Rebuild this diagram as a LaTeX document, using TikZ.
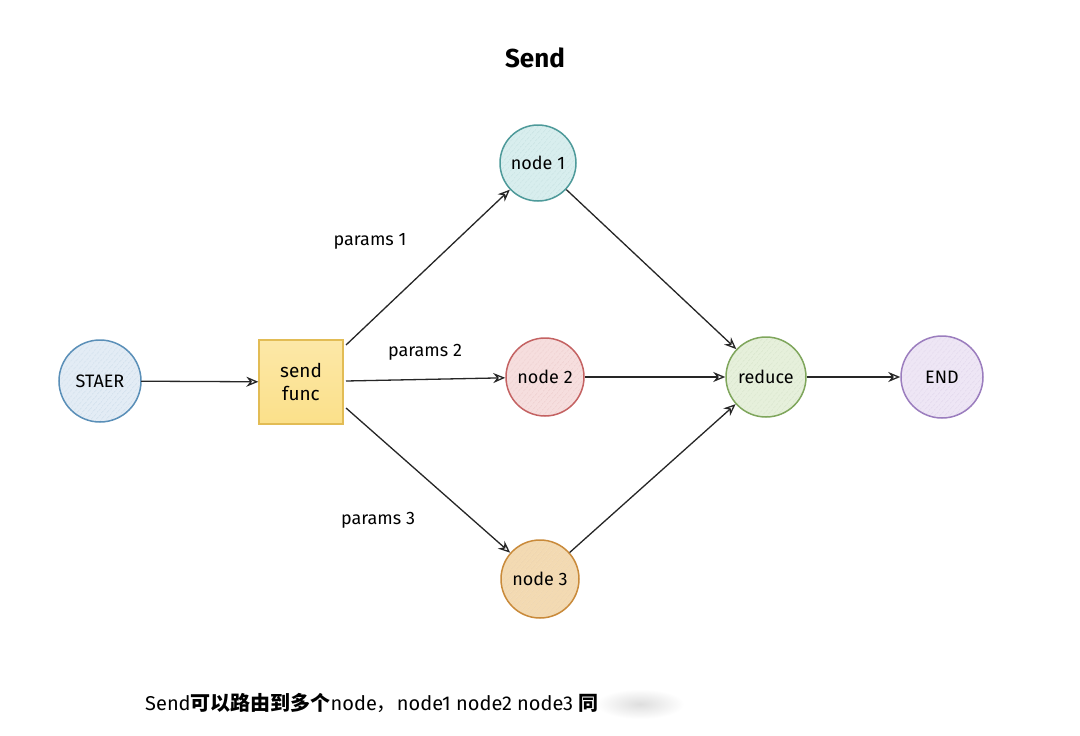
\documentclass[tikz,border=0pt]{standalone}
\usepackage{fontspec}
\setmainfont{Fira Sans}
\newfontfamily\cjk{Noto Sans CJK SC}
\usetikzlibrary{arrows.meta,patterns.meta,shadings}
\definecolor{c1}{HTML}{5A8FB8}\definecolor{f1}{HTML}{E3ECF5}
\definecolor{c2}{HTML}{4E9A9A}\definecolor{f2}{HTML}{D8EEEE}
\definecolor{c3}{HTML}{C46262}\definecolor{f3}{HTML}{F6DEDE}
\definecolor{c4}{HTML}{C98A3A}\definecolor{f4}{HTML}{F3DAB2}
\definecolor{c5}{HTML}{7FA65C}\definecolor{f5}{HTML}{E6F0DB}
\definecolor{c6}{HTML}{9B7DBE}\definecolor{f6}{HTML}{EEE6F5}
\definecolor{sfill}{HTML}{FBE08A}\definecolor{sdraw}{HTML}{E2BC55}
\tikzset{
  circ/.style 2 args={circle, minimum size=78pt, inner sep=0pt, draw=#1, line width=1.5pt,
    preaction={fill=#2}, pattern={Lines[angle=50,distance=4pt,line width=0.5pt]}, pattern color=#1!40,
    font=\fontsize{18}{20}\selectfont},
  lbl/.style={font=\fontsize{18}{20}\selectfont},
  arr/.style={-{Stealth[open,length=12pt,width=10pt]}, line width=1.3pt, black!85}
}
\begin{document}
\begin{tikzpicture}[x=1pt,y=-1pt]
\useasboundingbox (0,0) rectangle (1080,736);
\fill[white] (0,0) rectangle (1080,736);
\node[font=\fontsize{26}{28}\selectfont\bfseries] (title) at (535,58) {Send};

\node[circ={c1}{f1}, minimum size=82pt] (start) at (100,381) {STAER};
\node[rectangle, minimum size=84pt, inner sep=0pt, draw=sdraw, line width=1.3pt,
  top color=sfill!75, bottom color=sfill, align=center, font=\fontsize{19}{23}\selectfont] (sf) at (301,382) {send\\func};
\node[circ={c2}{f2}, minimum size=76pt] (n1) at (538,163) {node 1};
\node[circ={c3}{f3}] (n2) at (545,377) {node 2};
\node[circ={c4}{f4}] (n3) at (540,579) {node 3};
\node[circ={c5}{f5}, minimum size=80pt] (red) at (766,377) {reduce};
\node[circ={c6}{f6}, minimum size=82pt] (end) at (942,377) {END};

\coordinate (s1) at (346,345);
\coordinate (s2) at (346,381);
\coordinate (s3) at (346,408);

\draw[arr] (start) -- (sf);
\draw[arr] (s1) -- (n1);
\draw[arr] (s2) -- (n2);
\draw[arr] (s3) -- (n3);
\draw[arr] (n1) -- (red);
\draw[arr] (n2) -- (red);
\draw[arr] (n3) -- (red);
\draw[arr] (red) -- (end);

\node[lbl] (p1) at (370,241) {params 1};
\node[lbl] (p2) at (425,352) {params 2};
\node[lbl] (p3) at (378,520) {params 3};

\shade[inner color=black!13, outer color=white] (640,704) ellipse (44 and 15);
\node[anchor=west, inner sep=0pt, font=\fontsize{20}{23}\selectfont] (note) at (145,703)
  {Send{\cjk\bfseries 可以路由到多个}node{\cjk ，}node1 node2 node3 {\cjk\bfseries 同}};
\end{tikzpicture}
\end{document}
